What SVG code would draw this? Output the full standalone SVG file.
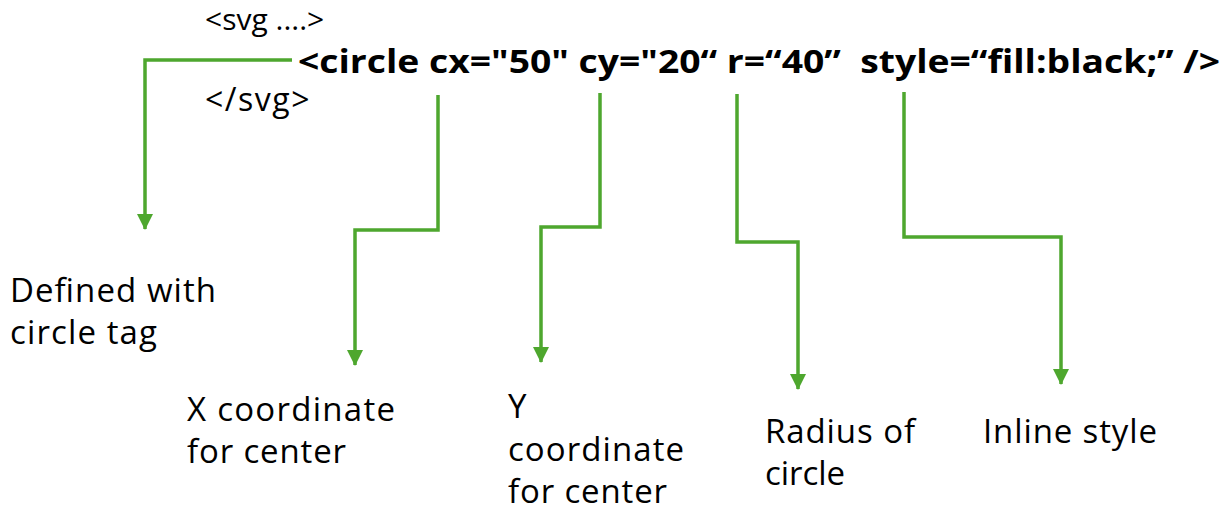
<svg xmlns="http://www.w3.org/2000/svg" width="1227" height="512" viewBox="0 0 1227 512">
<style>
.t{font-family:"Open Sans","Noto Sans",sans-serif;font-size:33px;fill:#000}
.s{font-family:"Open Sans","Noto Sans",sans-serif;font-size:30px;fill:#000}
.b{font-family:"Open Sans","Noto Sans",sans-serif;font-size:32px;font-weight:bold;fill:#000;white-space:pre}
.c{fill:none;stroke:#4EA72E;stroke-width:3.5;stroke-linejoin:miter}
</style>
<defs>
<marker id="arr" markerUnits="userSpaceOnUse" viewBox="0 0 16 16" markerWidth="16" markerHeight="16" refX="15" refY="8" orient="auto">
<path d="M0,0 L16,8 L0,16 Z" fill="#4EA72E"/>
</marker>
</defs>
<g id="code">
<text class="s" x="205" y="30">&lt;svg ....&gt;</text>
<text class="b" x="298" y="73" textLength="922" lengthAdjust="spacingAndGlyphs" xml:space="preserve">&lt;circle cx="50" cy="20“ r=“40”  style=“fill:black;” /&gt;</text>
<text class="s" x="205" y="111" style="font-size:32px;letter-spacing:1.5px">&lt;/svg&gt;</text>
</g>
<g id="connectors">
<path class="c" d="M292,60 H145 V229" marker-end="url(#arr)"/>
<path class="c" d="M438,95 V230 H355 V365" marker-end="url(#arr)"/>
<path class="c" d="M600,93 V227 H541 V362" marker-end="url(#arr)"/>
<path class="c" d="M737,94 V242 H798 V389" marker-end="url(#arr)"/>
<path class="c" d="M904,92 V237 H1061 V384" marker-end="url(#arr)"/>
</g>
<g id="label-tag">
<text class="t" x="10" y="302" textLength="206" lengthAdjust="spacing">Defined with</text>
<text class="t" x="10" y="344" textLength="147" lengthAdjust="spacing">circle tag</text>
</g>
<g id="label-cx">
<text class="t" x="187" y="421" textLength="208" lengthAdjust="spacing">X coordinate</text>
<text class="t" x="187" y="463" textLength="159" lengthAdjust="spacing">for center</text>
</g>
<g id="label-cy">
<text class="t" x="508" y="418">Y</text>
<text class="t" x="508" y="461" textLength="176" lengthAdjust="spacing">coordinate</text>
<text class="t" x="508" y="503" textLength="159" lengthAdjust="spacing">for center</text>
</g>
<g id="label-r">
<text class="t" x="765" y="443" textLength="150" lengthAdjust="spacing">Radius of</text>
<text class="t" x="765" y="485" textLength="80" lengthAdjust="spacing">circle</text>
</g>
<g id="label-style">
<text class="t" x="983" y="443" textLength="174" lengthAdjust="spacing">Inline style</text>
</g>
</svg>
